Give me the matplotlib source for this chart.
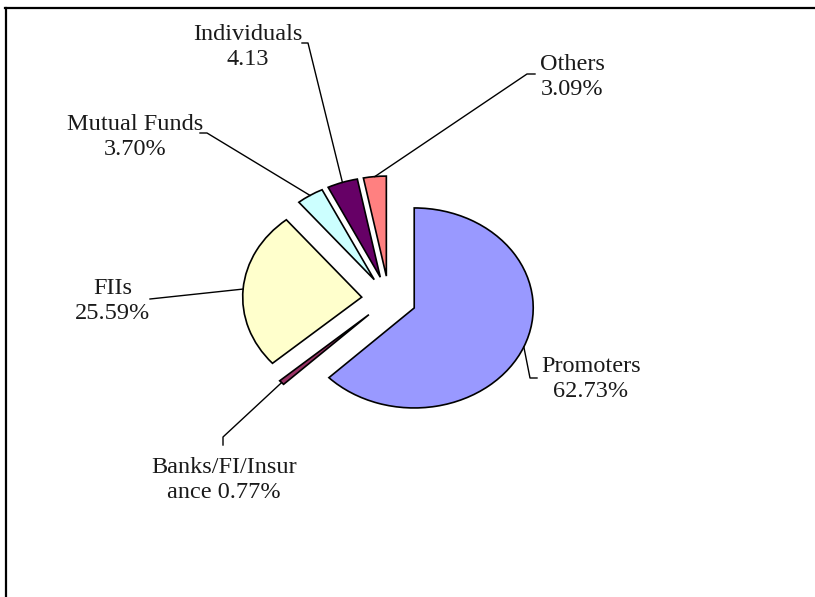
import numpy as np
import matplotlib.pyplot as plt
from matplotlib.lines import Line2D

# shareholding pattern
labels = ["Promoters\n62.73%", "Banks/FI/Insur\nance 0.77%", "FIIs\n25.59%",
          "Mutual Funds\n3.70%", "Individuals\n4.13", "Others\n3.09%"]
shares = [62.73, 0.77, 25.59, 3.70, 4.13, 3.09]
colors = ["#9999FF", "#993366", "#FFFFCC", "#CCFFFF", "#660066", "#FF8080"]

W, H = 815, 597
ox, oy = 389, 299   # pie centre (pixels)
rx, ry = 119, 100   # pie radius in x / y (pixels)

def to_data(px, py):
    return (px - ox) / rx, (oy - py) / ry

# label layout: text centre, then leader points from the text side towards the slice
text_pos = [(591, 379), (224, 480), (113, 301), (135, 137), (248, 47), (572, 77)]
leader_pts = [
    [(537, 378), (530, 378)],
    [(223, 445), (223, 437)],
    [(150, 299)],
    [(200, 133), (207, 133)],
    [(302, 43), (308, 43)],
    [(535, 74), (527, 74)],
]

fig = plt.figure(figsize=(W / 100, H / 100), dpi=100)
ax = fig.add_axes([0, 0, 1, 1])
wedges, _ = ax.pie(shares, colors=colors, startangle=90, counterclock=False,
                   explode=[0.23] * len(shares), radius=1,
                   wedgeprops=dict(edgecolor="black", linewidth=1.2))
ax.set_aspect("auto")
ax.set_xlim(-ox / rx, (W - ox) / rx)
ax.set_ylim(-(H - oy) / ry, oy / ry)
ax.axis("off")

for w, lab, tp, pts in zip(wedges, labels, text_pos, leader_pts):
    mid = np.deg2rad((w.theta1 + w.theta2) / 2)
    cx, cy = w.center
    anchor = (cx + w.r * np.cos(mid), cy + w.r * np.sin(mid))
    path = [to_data(*p) for p in pts] + [anchor]
    xs, ys = zip(*path)
    ax.plot(xs, ys, color="black", lw=1.0)
    tx, ty = to_data(*tp)
    ax.text(tx, ty, lab, ha="center", va="center", multialignment="center",
            fontsize=17.5, family="Liberation Serif", color="#1a1a1a", linespacing=1.22)

# chart border (top and left edges visible)
fig.add_artist(Line2D([5 / W, 1], [1 - 7.5 / H, 1 - 7.5 / H], transform=fig.transFigure,
                      color="black", lw=1.6))
fig.add_artist(Line2D([5.5 / W, 5.5 / W], [0, 1 - 7.5 / H], transform=fig.transFigure,
                      color="black", lw=1.6))

plt.savefig("out.png", dpi=100)
